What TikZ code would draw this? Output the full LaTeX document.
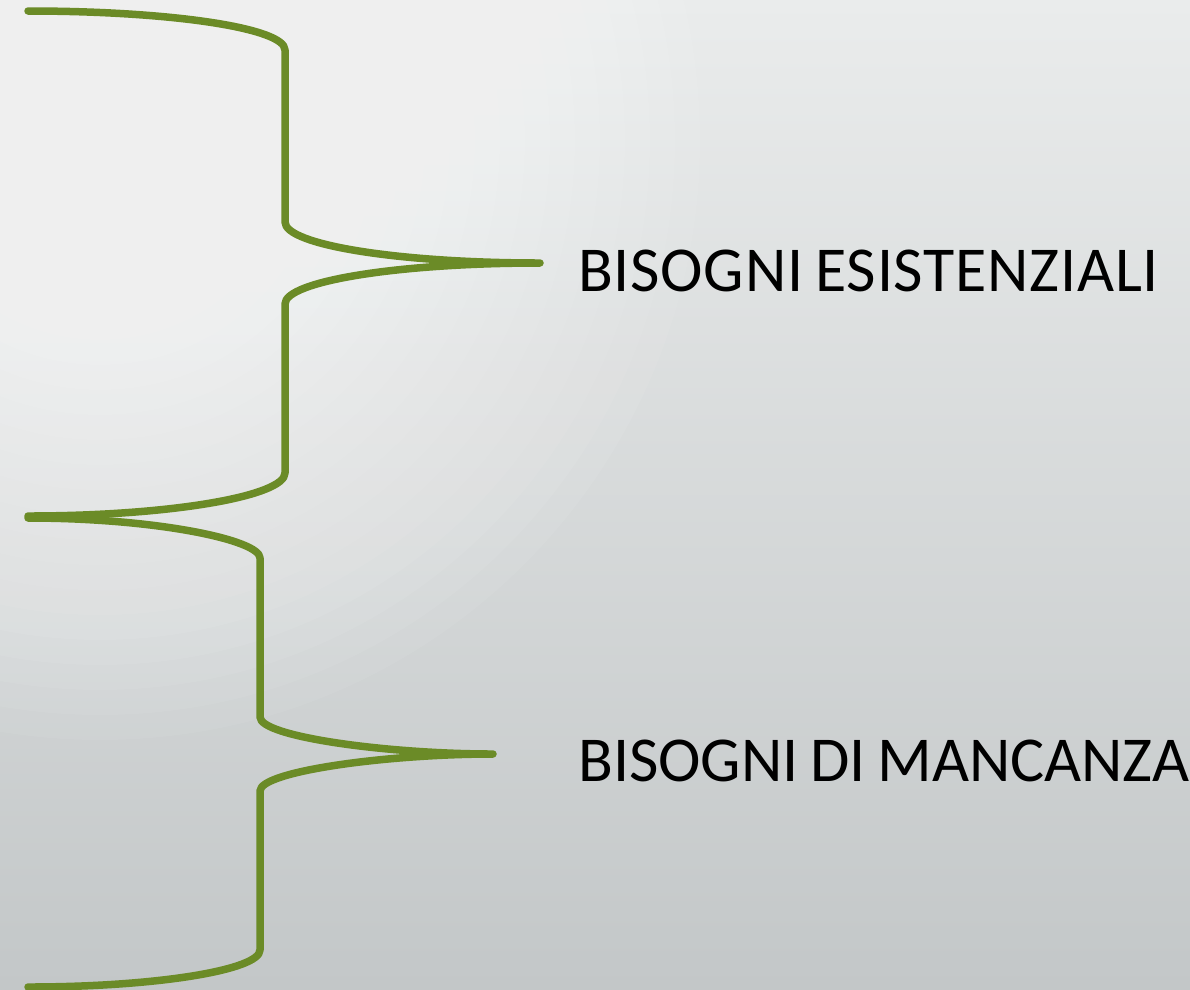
\documentclass[tikz,border=0pt]{standalone}
\usepackage{fontspec}
\setmainfont{Carlito}[WordSpace=0.8]
\usepackage{tikz}

\definecolor{bracegreen}{HTML}{6B8B27}
\definecolor{bgtop}{HTML}{EAECEC}
\definecolor{bgbottom}{HTML}{C3C7C8}

\tikzset{
    brace line/.style={bracegreen, line width=7.5pt, line cap=round, line join=round},
    need label/.style={anchor=base west, inner sep=0pt, font=\fontsize{64}{70}\selectfont}
}

\begin{document}
\begin{tikzpicture}[x=1pt, y=-1pt]
        \useasboundingbox (0,0) rectangle (1190,989);
        % background
        \shade[top color=bgtop, bottom color=bgbottom] (0,0) rectangle (1190,989);
        \begin{scope}
            \clip (0,0) rectangle (1190,989);
            \foreach \r in {600,575,...,25}
                \fill[white, opacity=0.06] (100,140) circle (\r);
        \end{scope}
        % tips of the braces
        \coordinate (tipA) at (540,263);
        \coordinate (tipB) at (493,754);
        % first brace
        \draw[brace line] (28,11) .. controls (171,11) and (285,28) .. (285,50)
            -- (285,222) .. controls (285,245) and (399,263) .. (tipA)
            .. controls (399,263) and (285,281) .. (285,304)
            -- (285,473) .. controls (285,496) and (171,516) .. (28,516);
        % second brace
        \draw[brace line] (28,518) .. controls (156,518) and (260,540) .. (260,558)
            -- (260,717) .. controls (260,737) and (389,754) .. (tipB)
            .. controls (389,754) and (260,771) .. (260,791)
            -- (260,950) .. controls (260,970) and (156,987) .. (28,987);
        \node[need label, font=\fontsize{64}{70}\selectfont\addfontfeatures{LetterSpace=1.2}] (esist) at (578,291) {BISOGNI ESISTENZIALI};
        \node[need label] (manc) at (578,781) {BISOGNI DI MANCANZA};
    \end{tikzpicture}
\end{document}
